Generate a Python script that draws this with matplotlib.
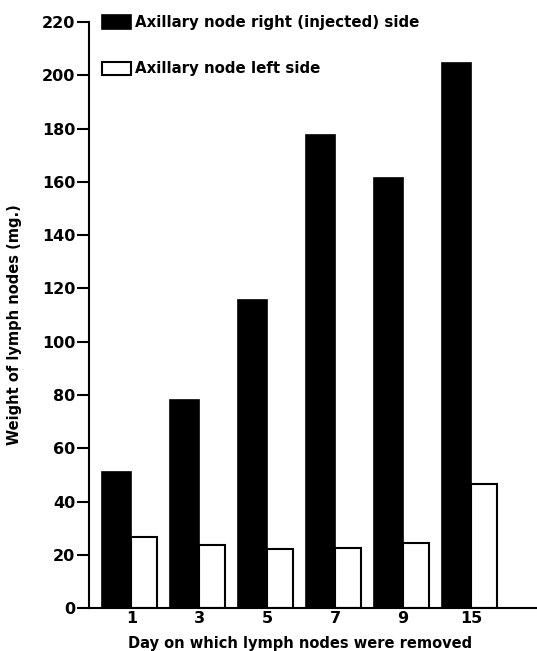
import matplotlib.pyplot as plt
import numpy as np

days = ['1', '3', '5', '7', '9', '15']
right_side = [51, 78, 115.5, 177.5, 161.5, 204.5]
left_side = [26.5, 23.5, 22, 22.5, 24.5, 46.5]

plt.rcParams['font.family'] = 'DejaVu Sans'
plt.rcParams['font.weight'] = 'bold'

fig = plt.figure(figsize=(5.37, 6.51), dpi=100)
ax = fig.add_axes([0.166, 0.066, 0.834, 0.9])

x = np.arange(len(days))
ax.bar(x, right_side, width=-0.43, align='edge', color='black',
       edgecolor='black', linewidth=1.2, label='Axillary node right (injected) side')
ax.bar(x, left_side, width=0.38, align='edge', color='white',
       edgecolor='black', linewidth=1.5, label='Axillary node left side')

ax.set_xlim(-0.62, 5.97)
ax.set_ylim(0, 220)
ax.set_yticks(np.arange(0, 221, 20))
ax.set_xticks(x)
ax.set_xticklabels(days)

for s in ['top', 'right']:
    ax.spines[s].set_visible(False)
for s in ['left', 'bottom']:
    ax.spines[s].set_linewidth(1.5)

ax.tick_params(axis='y', length=9, width=1.5, labelsize=11.5, pad=1)
ax.tick_params(axis='x', length=0, labelsize=11.5, pad=2)

ax.set_xlabel('Day on which lymph nodes were removed', fontsize=10.5, fontweight='bold')
ax.xaxis.set_label_coords(0.47, -0.047)
ax.set_ylabel('Weight of lymph nodes (mg.)', fontsize=10.5, fontweight='bold')
ax.yaxis.set_label_coords(-0.15, 0.483)

ax.legend(loc='upper left', bbox_to_anchor=(102 / 537, 1 - 15 / 651),
          bbox_transform=fig.transFigure, frameon=False, fontsize=10.8,
          handlelength=1.9, handleheight=1.0, handletextpad=0.3,
          labelspacing=2.1, borderpad=0, borderaxespad=0)

fig.savefig('out.png', dpi=100)
